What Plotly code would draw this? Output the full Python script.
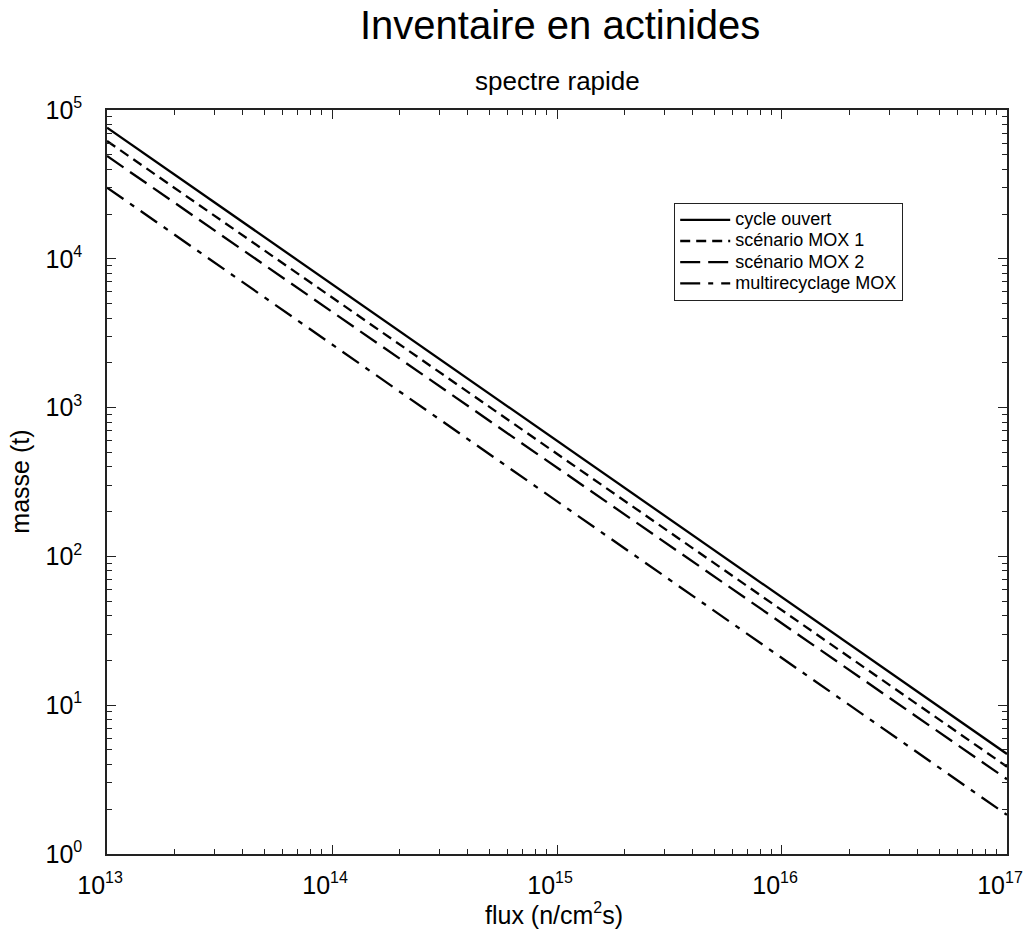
import plotly.graph_objects as go

flux = [1e13, 1e14, 1e15, 1e16, 1e17]
cycle_ouvert = [76200, 6750, 598, 53.0, 4.70]
mox1 = [61900, 5510, 490, 43.5, 3.86]
mox2 = [49100, 4400, 395, 35.4, 3.18]
multirecyclage = [30100, 2650, 234, 20.7, 1.83]

series_names = ["cycle ouvert", "scénario MOX 1", "scénario MOX 2", "multirecyclage MOX"]
series_values = [cycle_ouvert, mox1, mox2, multirecyclage]
dashes = ["solid", "10px,6px", "20px,8px", "20px,8px,5px,8px"]

x_ticks = [1e13, 1e14, 1e15, 1e16, 1e17]
x_exponents = ["13", "14", "15", "16", "17"]
y_ticks = [1, 10, 100, 1000, 10000, 100000]
y_exponents = ["0", "1", "2", "3", "4", "5"]

def pow_label(e, pad=""):
    return "10<sup><span style='font-size:16px'>" + e + "</span></sup>" + pad

FONT = "Liberation Sans, Arial, Helvetica, sans-serif"

fig = go.Figure()
for name, vals, d in zip(series_names, series_values, dashes):
    fig.add_trace(go.Scatter(x=flux, y=vals, mode="lines",
                             name="<span style='font-size:18px'>" + name + "</span>",
                             line=dict(color="black", width=2.3, dash=d)))

x_minor = [m * 10 ** e for e in range(13, 17) for m in range(2, 10)]
y_minor = [m * 10 ** e for e in range(0, 5) for m in range(2, 10)]

axis_common = dict(showline=True, linecolor="#222", linewidth=1.5, mirror="ticks",
                   ticks="inside", ticklen=9, tickwidth=1.2, tickcolor="#222",
                   showgrid=False, zeroline=False, tickmode="array", automargin=False,
                   ticklabeloverflow="allow",
                   tickfont=dict(size=25, color="black", family=FONT))

fig.update_xaxes(type="log", range=[12.9998, 17.0002], tickvals=x_ticks,
                 ticktext=[pow_label(e, "&nbsp;&nbsp;") for e in x_exponents],
                 minor=dict(tickvals=x_minor, ticks="inside", ticklen=5, tickcolor="#222", tickwidth=1, showgrid=False),
                 ticklabelstandoff=8, **axis_common)
fig.update_yaxes(type="log", range=[-0.0002, 5.0002], tickvals=y_ticks,
                 ticktext=[pow_label(e) for e in y_exponents],
                 minor=dict(tickvals=y_minor, ticks="inside", ticklen=5, tickcolor="#222", tickwidth=1, showgrid=False),
                 ticklabelstandoff=18, **axis_common)

fig.add_annotation(text="Inventaire en actinides", xref="paper", yref="paper", x=0.503, y=1.114,
                   xanchor="center", yanchor="middle", showarrow=False,
                   font=dict(size=40, color="black", family=FONT))
fig.add_annotation(text="spectre rapide", xref="paper", yref="paper", x=0.5, y=1.039,
                   xanchor="center", yanchor="middle", showarrow=False,
                   font=dict(size=26, color="black", family=FONT))
fig.add_annotation(text="flux (n/cm<sup><span style='font-size:16px'>2</span></sup>s)",
                   xref="paper", yref="paper", x=0.497, y=-0.080,
                   xanchor="center", yanchor="middle", showarrow=False,
                   font=dict(size=25, color="black", family=FONT))
fig.add_annotation(text="masse (t)", xref="paper", yref="paper", x=-0.097, y=0.5,
                   xanchor="center", yanchor="middle", showarrow=False, textangle=-90,
                   font=dict(size=25, color="black", family=FONT))

fig.update_layout(
    width=1026, height=930,
    margin=dict(l=107, r=19, t=110, b=76, autoexpand=False),
    paper_bgcolor="white", plot_bgcolor="white",
    font=dict(family=FONT, color="black"),
    showlegend=True,
    legend=dict(x=0.63, y=0.875, xanchor="left", yanchor="top",
                bgcolor="white", bordercolor="#222", borderwidth=1.2,
                font=dict(size=14, color="black", family=FONT),
                tracegroupgap=0, itemwidth=50),
)

fig.write_html("out.html", config={"displayModeBar": False},
               post_script="document.body.style.margin='0';document.body.style.padding='0';")
